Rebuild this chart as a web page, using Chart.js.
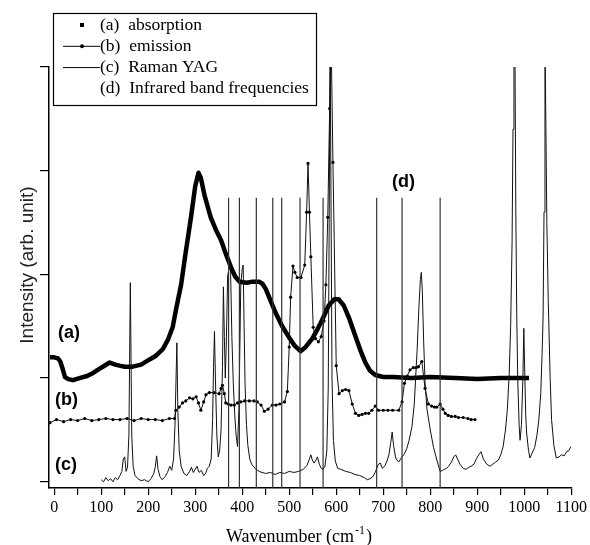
<!DOCTYPE html>
<html>
<head>
<meta charset="utf-8">
<script src="https://cdn.jsdelivr.net/npm/chart.js@4.4.1/dist/chart.umd.min.js"></script>
<style>html,body{margin:0;padding:0;background:#fff}</style>
</head>
<body>
<canvas id="spectra" width="590" height="545"></canvas>
<script>
// (a) absorption
const absWave = [-9,0,8,13,18,23,30,40,54,70, 83,100,118,130,139,150,167,185,203,215,
  231,242,252,260,270,280,291,300,307,312, 320,333,345,355,365,376,385,394,410,422,
  436,443,450,460,471,485,500,512,524,535, 549,560,570,584,596,605,616,628,641,652,
  662,672,683,700,720,760,800,853,900,950, 985,1010];
const absVal = [1.20,1.20,1.19,1.16,1.09,1.01,0.99,0.98,1.00,1.02, 1.05,1.10,1.15,1.13,1.12,1.11,1.11,1.13,1.18,1.21,
  1.28,1.37,1.49,1.68,1.90,2.22,2.55,2.85,2.98,2.93, 2.76,2.55,2.42,2.33,2.20,2.07,1.98,1.93,1.92,1.93,
  1.93,1.91,1.86,1.75,1.63,1.50,1.39,1.31,1.26,1.30, 1.38,1.47,1.56,1.70,1.76,1.76,1.70,1.57,1.40,1.26,
  1.15,1.07,1.03,1.01,1.01,1.00,1.01,1.00,0.99,1.00, 1.00,1.00];

// (b) emission
const emWave = [-9,5,20,35,50,65,80,95,110,125, 140,155,170,185,200,215,230,245,256,259,
  266,273,280,288,295,302,307,312,318,323, 330,340,351,355,358,362,365,370,376,383,
  390,397,405,415,425,432,440,447,455,464, 472,480,490,496,500,503,508,512,517,525,
  533,537,540,543,546,551,556,562,568,574, 578,582,586,589,593,600,606,613,620,627,
  634,641,648,655,662,669,676,683,690,700, 710,720,733,740,745,751,757,764,770,775,
  782,789,796,803,809,814,821,827,832,838, 845,853,860,870,880,887,895];
const emVal = [0.57,0.60,0.58,0.60,0.59,0.61,0.59,0.60,0.61,0.60, 0.60,0.61,0.59,0.61,0.60,0.60,0.59,0.61,0.61,0.69,
  0.72,0.76,0.78,0.81,0.80,0.82,0.76,0.69,0.77,0.84, 0.86,0.86,0.85,0.90,0.93,0.85,0.76,0.75,0.74,0.74,
  0.76,0.77,0.78,0.78,0.78,0.77,0.74,0.68,0.70,0.74, 0.74,0.75,0.77,0.87,1.30,1.78,2.08,2.02,1.97,1.97,
  2.09,2.60,3.07,2.60,2.17,1.49,1.38,1.35,1.40,1.55, 1.90,2.55,3.60,4.30,3.08,1.12,0.85,0.88,0.89,0.88,
  0.75,0.66,0.64,0.65,0.66,0.66,0.69,0.73,0.69,0.69, 0.69,0.69,0.69,0.77,0.95,1.02,1.08,1.10,1.10,1.11,
  1.16,0.90,0.75,0.73,0.72,0.72,0.75,0.70,0.66,0.64, 0.63,0.63,0.62,0.62,0.61,0.60,0.60];

// (c) Raman YAG
const ramanWave = [100,105,110,115,120,125,130,135,140,144, 147,150,153,156,159,162,165,168,172,178,
  185,192,200,206,212,215,218,221,225,230, 236,241,246,250,254,257,259,261,263,266,
  270,276,282,288,292,296,300,304,308,313, 318,322,326,330,334,337,339,341,343,346,
  349,352,355,358,360,362,364,366,369,372, 375,378,381,384,387,390,393,395,397,400,
  402,404,406,409,412,416,420,425,430,436, 442,450,460,470,480,490,500,510,520,530,
  538,543,546,549,553,557,560,564,568,572, 576,580,583,585,587,589,591,594,598,603,
  610,620,630,640,650,660,666,672,678,683, 687,690,694,698,701,704,708,712,716,719,
  722,726,729,733,737,740,745,750,755,761, 766,772,776,779,781,783,786,789,793,800,
  807,814,821,826,830,835,839,845,850,854, 858,863,870,876,882,887,893,898,903,908,
  913,920,927,933,939,945,950,955,960,964, 968,971,974,976,978,980,982,984,986,989,
  991,994,997,999,1001,1003,1005,1009,1012,1016, 1022,1027,1031,1035,1038,1040,1042,1044,1046,1048,
  1051,1055,1058,1063,1068,1074,1079,1085,1090,1095,1099];
const ramanVal = [0.02,0.00,0.04,0.01,0.03,0.00,0.04,0.02,0.06,0.10, 0.22,0.24,0.10,0.14,0.45,1.92,0.45,0.15,0.06,0.03,
  0.01,0.02,0.00,0.03,0.08,0.14,0.25,0.12,0.05,0.02, 0.05,0.09,0.15,0.11,0.22,0.55,0.95,1.34,0.70,0.30,
  0.15,0.08,0.06,0.10,0.14,0.09,0.12,0.15,0.09,0.11, 0.06,0.08,0.13,0.15,0.22,0.60,1.10,1.45,1.00,0.45,
  0.24,0.30,0.50,1.10,1.88,1.40,1.00,1.30,1.99,2.05, 2.10,1.40,0.95,0.65,0.45,0.34,0.70,1.30,1.91,2.05,
  2.09,1.50,0.95,0.55,0.35,0.22,0.17,0.14,0.12,0.10, 0.09,0.08,0.09,0.07,0.09,0.08,0.10,0.09,0.10,0.12,
  0.16,0.22,0.26,0.21,0.18,0.21,0.24,0.17,0.13,0.12, 0.15,0.30,0.90,2.50,4.30,2.60,1.00,0.40,0.20,0.13,
  0.12,0.10,0.09,0.07,0.06,0.04,0.02,0.03,0.05,0.09, 0.14,0.17,0.18,0.13,0.14,0.16,0.20,0.26,0.38,0.48,
  0.35,0.24,0.21,0.19,0.22,0.24,0.27,0.32,0.40,0.53, 0.75,1.27,1.70,1.95,2.02,1.85,1.35,0.95,0.70,0.50,
  0.33,0.21,0.10,0.11,0.12,0.13,0.15,0.19,0.24,0.26, 0.22,0.17,0.13,0.12,0.14,0.15,0.17,0.22,0.26,0.29,
  0.22,0.17,0.15,0.17,0.19,0.21,0.26,0.34,0.50,0.70, 1.05,1.50,2.30,3.40,4.30,4.30,2.60,1.60,1.00,0.55,
  0.40,0.55,1.00,1.48,1.05,0.65,0.47,0.30,0.23,0.27, 0.33,0.45,0.60,0.85,1.25,1.59,2.60,4.30,3.40,2.50,
  1.75,1.00,0.60,0.35,0.23,0.24,0.26,0.25,0.29,0.30,0.34];

// (d) infrared band frequencies (vertical markers)
const irBands = [371, 394, 430, 465, 484, 523, 572, 686, 740, 821];
const irTop = 2.74;

const legendNames = ['(a)  absorption', '(b)  emission', '(c)  Raman YAG', '(d)  Infrared band frequencies'];
const yMin = -0.06;

const pts = (xs, ys) => xs.map((x, i) => ({x: x, y: ys[i]}));
const irPts = irBands.flatMap(v => [{x: v, y: yMin}, {x: v, y: irTop}, {x: v, y: null}]);

const extras = {
  id: 'extras',
  afterDraw(chart) {
    const c = chart.ctx;
    c.save();
    // legend box
    c.fillStyle = '#fff';
    c.fillRect(53, 13, 264, 93);
    c.strokeStyle = '#000';
    c.lineWidth = 1.2;
    c.strokeRect(53.5, 13.5, 263, 92);
    c.fillStyle = '#000';
    c.font = '17.5px "Liberation Serif"';
    c.textBaseline = 'middle';
    c.textAlign = 'left';
    legendNames.forEach((t, i) => c.fillText(t, 100, 25 + i * 21.3));
    c.fillRect(80, 23, 4, 4);
    c.beginPath();
    c.moveTo(63, 46.3); c.lineTo(100, 46.3);
    c.moveTo(63, 67.6); c.lineTo(100, 67.6);
    c.lineWidth = 1;
    c.stroke();
    c.beginPath();
    c.arc(82, 46.3, 2, 0, Math.PI * 2);
    c.fill();

    // series tags
    c.font = 'bold 18px "Liberation Sans"';
    c.fillText('(a)', 58, 333);
    c.fillText('(b)', 55, 400);
    c.fillText('(c)', 55, 465);
    c.fillText('(d)', 392, 182);

    // y title
    c.save();
    c.translate(28, 265);
    c.rotate(-Math.PI / 2);
    c.textAlign = 'center';
    c.fillStyle = '#222';
    c.font = '19px "Liberation Sans"';
    c.fillText('Intensity (arb. unit)', 0, 0);
    c.restore();

    // x title with superscript
    c.textBaseline = 'alphabetic';
    const main = 'Wavenumber (cm', sup = '-1', end = ')';
    c.font = '18px "Liberation Serif"';
    const w1 = c.measureText(main).width, w3 = c.measureText(end).width;
    c.font = '12px "Liberation Serif"';
    const w2 = c.measureText(sup).width;
    let x0 = 298 - (w1 + w2 + w3) / 2;
    c.font = '18px "Liberation Serif"';
    c.fillText(main, x0, 542);
    c.font = '12px "Liberation Serif"';
    c.fillText(sup, x0 + w1 + 1, 534);
    c.font = '18px "Liberation Serif"';
    c.fillText(end, x0 + w1 + w2 + 2, 542);
    c.restore();
  }
};

new Chart(document.getElementById('spectra').getContext('2d'), {
  type: 'line',
  data: {
    datasets: [
      { label: 'IR', data: irPts, borderColor: '#333', borderWidth: 1.2, pointRadius: 0, spanGaps: false },
      { label: 'Raman', data: pts(ramanWave, ramanVal), borderColor: '#111', borderWidth: 1, pointRadius: 0 },
      { label: 'emission', data: pts(emWave, emVal), borderColor: '#111', borderWidth: 1,
        pointRadius: 1.6, pointBorderWidth: 0, pointBackgroundColor: '#000' },
      { label: 'absorption', data: pts(absWave, absVal), borderColor: '#000', borderWidth: 4.5,
        borderJoinStyle: 'round', pointRadius: 0 }
    ]
  },
  options: {
    responsive: false,
    animation: false,
    events: [],
    layout: { padding: { top: 67, right: 17, left: 0, bottom: 0 } },
    plugins: { legend: { display: false }, tooltip: { enabled: false } },
    scales: {
      x: {
        type: 'linear', min: -11, max: 1100,
        ticks: {
          stepSize: 50, includeBounds: false, autoSkip: false, maxRotation: 0, maxTicksLimit: 100,
          padding: 3, color: '#000', font: { family: 'Liberation Serif', size: 16 },
          callback: v => (v % 100 === 0 ? v : '')
        },
        grid: { drawOnChartArea: false, drawTicks: true, tickLength: 7, color: '#000', lineWidth: 1.2 },
        border: { color: '#000', width: 1.5 },
        afterFit: s => { s.height = 57; }
      },
      y: {
        min: yMin, max: 4,
        ticks: { stepSize: 1, includeBounds: false, callback: () => '' },
        grid: { drawOnChartArea: false, drawTicks: true, tickLength: 9, color: '#000', lineWidth: 1.2 },
        border: { color: '#000', width: 1.5 },
        afterFit: s => { s.width = 49; }
      }
    }
  },
  plugins: [extras]
});
</script>
</body>
</html>
